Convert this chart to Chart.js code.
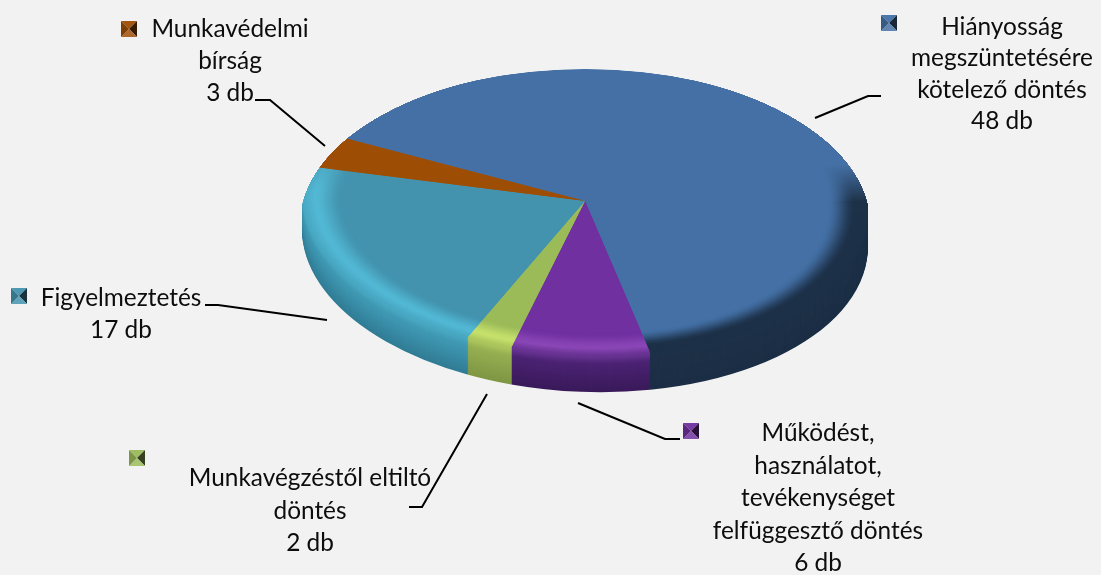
<!DOCTYPE html>
<html>
<head>
<meta charset="utf-8">
<style>
  html, body { margin: 0; padding: 0; background: #f2f2f2; }
  canvas { display: block; }
</style>
<script src="https://cdn.jsdelivr.net/npm/chart.js@4"></script>
</head>
<body>
<canvas id="chart" width="1101" height="575"></canvas>
<script>
// data, line breaks are the wrapping of the labels
const categories = [
    "Hiányosság\nmegszüntetésére\nkötelező döntés",
    "Működést,\nhasználatot,\ntevékenységet\nfelfüggesztő döntés",
    "Munkavégzéstől eltiltó\ndöntés",
    "Figyelmeztetés",
    "Munkavédelmi\nbírság",
];
const values = [48, 6, 2, 17, 3];
const unit = "db";

const faceColors = ["#4470a5", "#7030a0", "#9bbb59", "#4393ae", "#9e4d05"];
const rimColors = ["#1d3148", "#8a46b6", "#c6e06c", "#52b8d4", "#a85306"];
const sideTopColors = ["#1d3047", "#4a2272", "#94ad50", "#3f97b1", "#7a3c04"];
const sideBottomColors = ["#1b2e45", "#3a1a5a", "#7f9644", "#317c95", "#6a3303"];
// where the rounded edge fades out towards the back of the pie
const fadeStart = [165, 150, 150, 125, 170];
const fadeEnd = [202, 205, 205, 190, 210];

// pie geometry on the page
const pieX = 585;
const pieTop = 201;      // y of the apex
const upperRy = 132;
const lowerRy = 154;
const lowerShear = 0.03;
const sideHeight = 37;
const bevelWidth = 40;
const pieRadius = 283;

// label placement: centre x, first baseline y, line gap, key square, leader line
const labelLayout = [
    { x: 1002, y: 35, gap: 31.4, key: [881, 15], line: [[815, 118], [868, 96], [881, 96]] },
    { x: 818, y: 441, gap: 32.6, key: [683, 423], line: [[578, 403], [665, 439], [680, 439]] },
    { x: 310, y: 486, gap: 32.6, key: [129, 450], line: [[487, 394], [422, 507], [409, 507]] },
    { x: 121, y: 306, gap: 32, key: [11, 288], line: [[327, 320], [218, 305], [205, 305]] },
    { x: 230, y: 37, gap: 32, key: [121, 21], line: [[325, 146], [270, 100], [255, 100]] },
];

function mix(a, b, t) {
    const pa = parseInt(a.slice(1), 16);
    const pb = parseInt(b.slice(1), 16);
    let out = "#";
    [16, 8, 0].forEach((s) => {
        const ca = (pa >> s) & 255;
        const cb = (pb >> s) & 255;
        out += Math.round(ca + (cb - ca) * t).toString(16).padStart(2, "0");
    });
    return out;
}

function smooth(t) {
    return t * t * (3 - 2 * t);
}

// colour across the rounded edge: p = 0 at the rim, p = 1 where the flat face starts
function bevelColor(i, p) {
    if (p < 0.3) {
        return mix(mix(sideTopColors[i], rimColors[i], 0.5), rimColors[i], p / 0.3);
    }
    return mix(rimColors[i], faceColors[i], smooth((p - 0.3) / 0.7));
}

function drawArcAs(ctx, arc, color, radius) {
    const opts = arc.options;
    const outer = arc.outerRadius;
    arc.options = Object.assign({}, opts, { backgroundColor: color });
    arc.outerRadius = radius;
    arc.draw(ctx);
    arc.options = opts;
    arc.outerRadius = outer;
}

// each layer is the same set of slices, squeezed into an ellipse,
// with the back half flatter than the front half to fake the perspective
function drawLayer(chart, arcs, dy, radius, colorFor) {
    const ctx = chart.ctx;
    const cx = arcs[0].x;
    const cy = arcs[0].y;
    const halves = [
        { k: upperRy / pieRadius, s: 0, top: 0, bottom: pieTop + dy, upper: true },
        { k: lowerRy / pieRadius, s: lowerShear, top: pieTop + dy, bottom: chart.height, upper: false },
    ];
    halves.forEach((h) => {
        ctx.save();
        ctx.beginPath();
        ctx.rect(0, h.top, chart.width, h.bottom - h.top);
        ctx.clip();
        ctx.translate(cx, pieTop + dy);
        ctx.transform(1, h.s, 0, h.k, 0, 0);
        ctx.translate(-cx, -cy);
        arcs.forEach((arc, i) => {
            drawArcAs(ctx, arc, colorFor(i, h, cy), radius);
        });
        ctx.restore();
    });
}

const pie3d = {
    id: "pie3d",
    beforeDatasetsDraw(chart) {
        const arcs = chart.getDatasetMeta(0).data;
        const ctx = chart.ctx;

        // back of the outline is narrower than the two half ellipses give
        ctx.save();
        ctx.beginPath();
        ctx.ellipse(pieX, 225, 285, 156, 0, Math.PI, 2 * Math.PI);
        ctx.lineTo(chart.width, 225);
        ctx.lineTo(chart.width, chart.height);
        ctx.lineTo(0, chart.height);
        ctx.lineTo(0, 225);
        ctx.closePath();
        ctx.clip();

        for (let d = sideHeight; d >= 1; d--) {
            const t = d / sideHeight;
            drawLayer(chart, arcs, d, pieRadius, (i) => {
                if (t < 0.3) return mix(mix(sideTopColors[i], rimColors[i], 0.5), sideTopColors[i], smooth(t / 0.3));
                return mix(sideTopColors[i], sideBottomColors[i], (t - 0.3) / 0.7);
            });
        }

        // rounded edge: strongest at the front, gone at the back
        for (let r = 0; r <= bevelWidth; r++) {
            const p = r / bevelWidth;
            drawLayer(chart, arcs, 0, pieRadius - r, (i, h, cy) => {
                const col = bevelColor(i, p);
                if (!h.upper) return col;
                const y0 = cy + (fadeStart[i] - pieTop) / h.k;
                const y1 = cy + (fadeEnd[i] - pieTop) / h.k;
                const g = ctx.createLinearGradient(0, y0, 0, y1);
                g.addColorStop(0, faceColors[i]);
                g.addColorStop(1, col);
                return g;
            });
        }
        ctx.restore();
        return false;
    },
    afterDraw(chart) {
        const ctx = chart.ctx;
        ctx.save();

        // leader lines
        ctx.strokeStyle = "#000000";
        ctx.lineWidth = 2;
        labelLayout.forEach((l) => {
            ctx.beginPath();
            l.line.forEach((pt, n) => {
                if (n === 0) ctx.moveTo(pt[0], pt[1]);
                else ctx.lineTo(pt[0], pt[1]);
            });
            ctx.stroke();
        });

        // legend keys, little pyramids
        labelLayout.forEach((l, i) => {
            const x = l.key[0];
            const y = l.key[1];
            const s = 16;
            const mx = x + s / 2;
            const my = y + s / 2;
            const tris = [
                [[x, y], [x + s, y], mix(faceColors[i], "#ffffff", 0.05)],
                [[x + s, y], [x + s, y + s], mix(faceColors[i], "#000000", 0.65)],
                [[x + s, y + s], [x, y + s], mix(faceColors[i], "#ffffff", 0.15)],
                [[x, y + s], [x, y], mix(faceColors[i], "#000000", 0.2)],
            ];
            tris.forEach((tr) => {
                ctx.fillStyle = tr[2];
                ctx.beginPath();
                ctx.moveTo(tr[0][0], tr[0][1]);
                ctx.lineTo(tr[1][0], tr[1][1]);
                ctx.lineTo(mx, my);
                ctx.closePath();
                ctx.fill();
            });
        });

        // labels
        ctx.fillStyle = "#0d0d0d";
        ctx.font = "24.4px Lato";
        ctx.textAlign = "center";
        ctx.textBaseline = "alphabetic";
        labelLayout.forEach((l, i) => {
            const lines = categories[i].split("\n").concat(values[i] + " " + unit);
            lines.forEach((txt, n) => {
                ctx.fillText(txt, l.x, l.y + n * l.gap);
            });
        });
        ctx.restore();
    },
};

new Chart(document.getElementById("chart"), {
    type: "pie",
    data: {
        labels: categories,
        datasets: [
            {
                data: values,
                backgroundColor: faceColors,
                borderWidth: 0,
                radius: pieRadius,
            },
        ],
    },
    options: {
        responsive: false,
        animation: false,
        events: [],
        rotation: 299.3,
        layout: { padding: { left: 69, bottom: 1 } },
        plugins: {
            legend: { display: false },
            tooltip: { enabled: false },
        },
    },
    plugins: [pie3d],
});
</script>
</body>
</html>
